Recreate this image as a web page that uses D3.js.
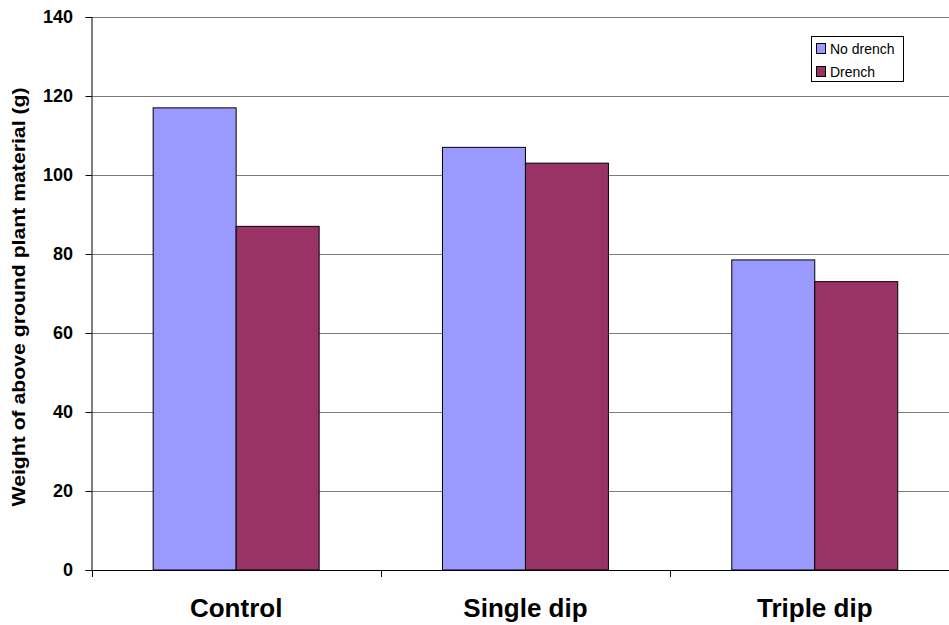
<!DOCTYPE html>
<html>
<head>
<meta charset="utf-8">
<script src="https://cdn.jsdelivr.net/npm/d3@7"></script>
<style>
  body { margin: 0; background: #fff; }
  text { font-family: Arial, "Liberation Sans", sans-serif; }
</style>
</head>
<body>
<svg id="chart" width="949" height="625"></svg>
<script>
// chart data
var categories = ['Control', 'Single dip', 'Triple dip'];
var seriesNames = ['No drench', 'Drench'];
var noDrench = [117, 107, 78.5];
var drench = [87, 103, 73];
var yTicks = [0, 20, 40, 60, 80, 100, 120, 140];
var colors = ['#9999FF', '#993366'];

var svg = d3.select('#chart');

var plotLeft = 91.5, plotTop = 17, plotBottom = 570;
var catWidth = 289.3;

var x = d3.scaleBand()
    .domain(categories)
    .range([plotLeft, plotLeft + catWidth * categories.length])
    .paddingInner(0)
    .paddingOuter(0);

// two bars side by side in the middle of each category
var xSub = d3.scaleBand()
    .domain(seriesNames)
    .range([0, catWidth])
    .paddingInner(0)
    .paddingOuter(0.743);

var y = d3.scaleLinear().domain([0, 140]).range([plotBottom, plotTop]);

// gridlines
svg.append('g')
    .selectAll('line')
    .data(yTicks.filter(function(d){return d > 0;}))
    .enter().append('line')
    .attr('x1', plotLeft).attr('x2', 949)
    .attr('y1', function(d){return Math.round(y(d)) + 0.5;})
    .attr('y2', function(d){return Math.round(y(d)) + 0.5;})
    .attr('stroke', '#7a7a7a')
    .attr('stroke-width', 1);

// bars
var rows = categories.map(function(c, i){
  return [{cat: c, s: seriesNames[0], v: noDrench[i]},
          {cat: c, s: seriesNames[1], v: drench[i]}];
});

svg.append('g')
    .selectAll('g')
    .data(rows)
    .enter().append('g')
    .attr('transform', function(d){return 'translate(' + x(d[0].cat) + ',0)';})
    .selectAll('rect')
    .data(function(d){return d;})
    .enter().append('rect')
    .attr('x', function(d){return xSub(d.s);})
    .attr('width', xSub.bandwidth())
    .attr('y', function(d){return y(d.v);})
    .attr('height', function(d){return y(0) - y(d.v);})
    .attr('fill', function(d, i){return colors[i];})
    .attr('stroke', '#000')
    .attr('stroke-width', 1);

// y axis
var yAxis = d3.axisLeft(y).tickValues(yTicks).tickSize(6).tickPadding(12.5);
var gy = svg.append('g')
    .attr('transform', 'translate(' + plotLeft + ',0)')
    .call(yAxis);
gy.select('.domain').attr('stroke', '#000');
gy.selectAll('.tick line').attr('stroke', '#000');
gy.selectAll('.tick text')
    .attr('font-size', '18px')
    .attr('font-weight', 'bold')
    .attr('fill', '#000')
    .style('font-family', 'Arial, "Liberation Sans", sans-serif');

// x axis
var xAxis = d3.axisBottom(x).tickSize(0).tickPadding(29).tickSizeOuter(0);
var gx = svg.append('g')
    .attr('transform', 'translate(0,' + plotBottom + ')')
    .call(xAxis);
gx.select('.domain').attr('stroke', '#000');
gx.selectAll('.tick text')
    .attr('font-size', '26px')
    .attr('font-weight', 'bold')
    .attr('fill', '#000')
    .style('font-family', 'Arial, "Liberation Sans", sans-serif');

// category separator ticks
svg.append('g')
    .selectAll('line')
    .data(categories)
    .enter().append('line')
    .attr('x1', function(d){return Math.round(x(d)) + 0.5;})
    .attr('x2', function(d){return Math.round(x(d)) + 0.5;})
    .attr('y1', plotBottom).attr('y2', plotBottom + 7)
    .attr('stroke', '#000');

// y label
svg.append('text')
    .attr('transform', 'translate(25,297) rotate(-90)')
    .attr('text-anchor', 'middle')
    .attr('font-size', '18px')
    .attr('font-weight', 'bold')
    .attr('textLength', 419)
    .attr('lengthAdjust', 'spacingAndGlyphs')
    .text('Weight of above ground plant material (g)');

// legend
var legend = svg.append('g').attr('transform', 'translate(811.5,36.5)');
legend.append('rect')
    .attr('width', 92).attr('height', 45)
    .attr('fill', '#fff').attr('stroke', '#000');
var items = legend.selectAll('g.item')
    .data(seriesNames)
    .enter().append('g')
    .attr('class', 'item')
    .attr('transform', function(d, i){return 'translate(5,' + (7 + i * 23) + ')';});
items.append('rect')
    .attr('width', 9).attr('height', 10)
    .attr('fill', function(d, i){return colors[i];})
    .attr('stroke', '#000');
items.append('text')
    .attr('x', 13.5).attr('y', 10.5)
    .attr('font-size', '14px')
    .text(function(d){return d;});
</script>
</body>
</html>
